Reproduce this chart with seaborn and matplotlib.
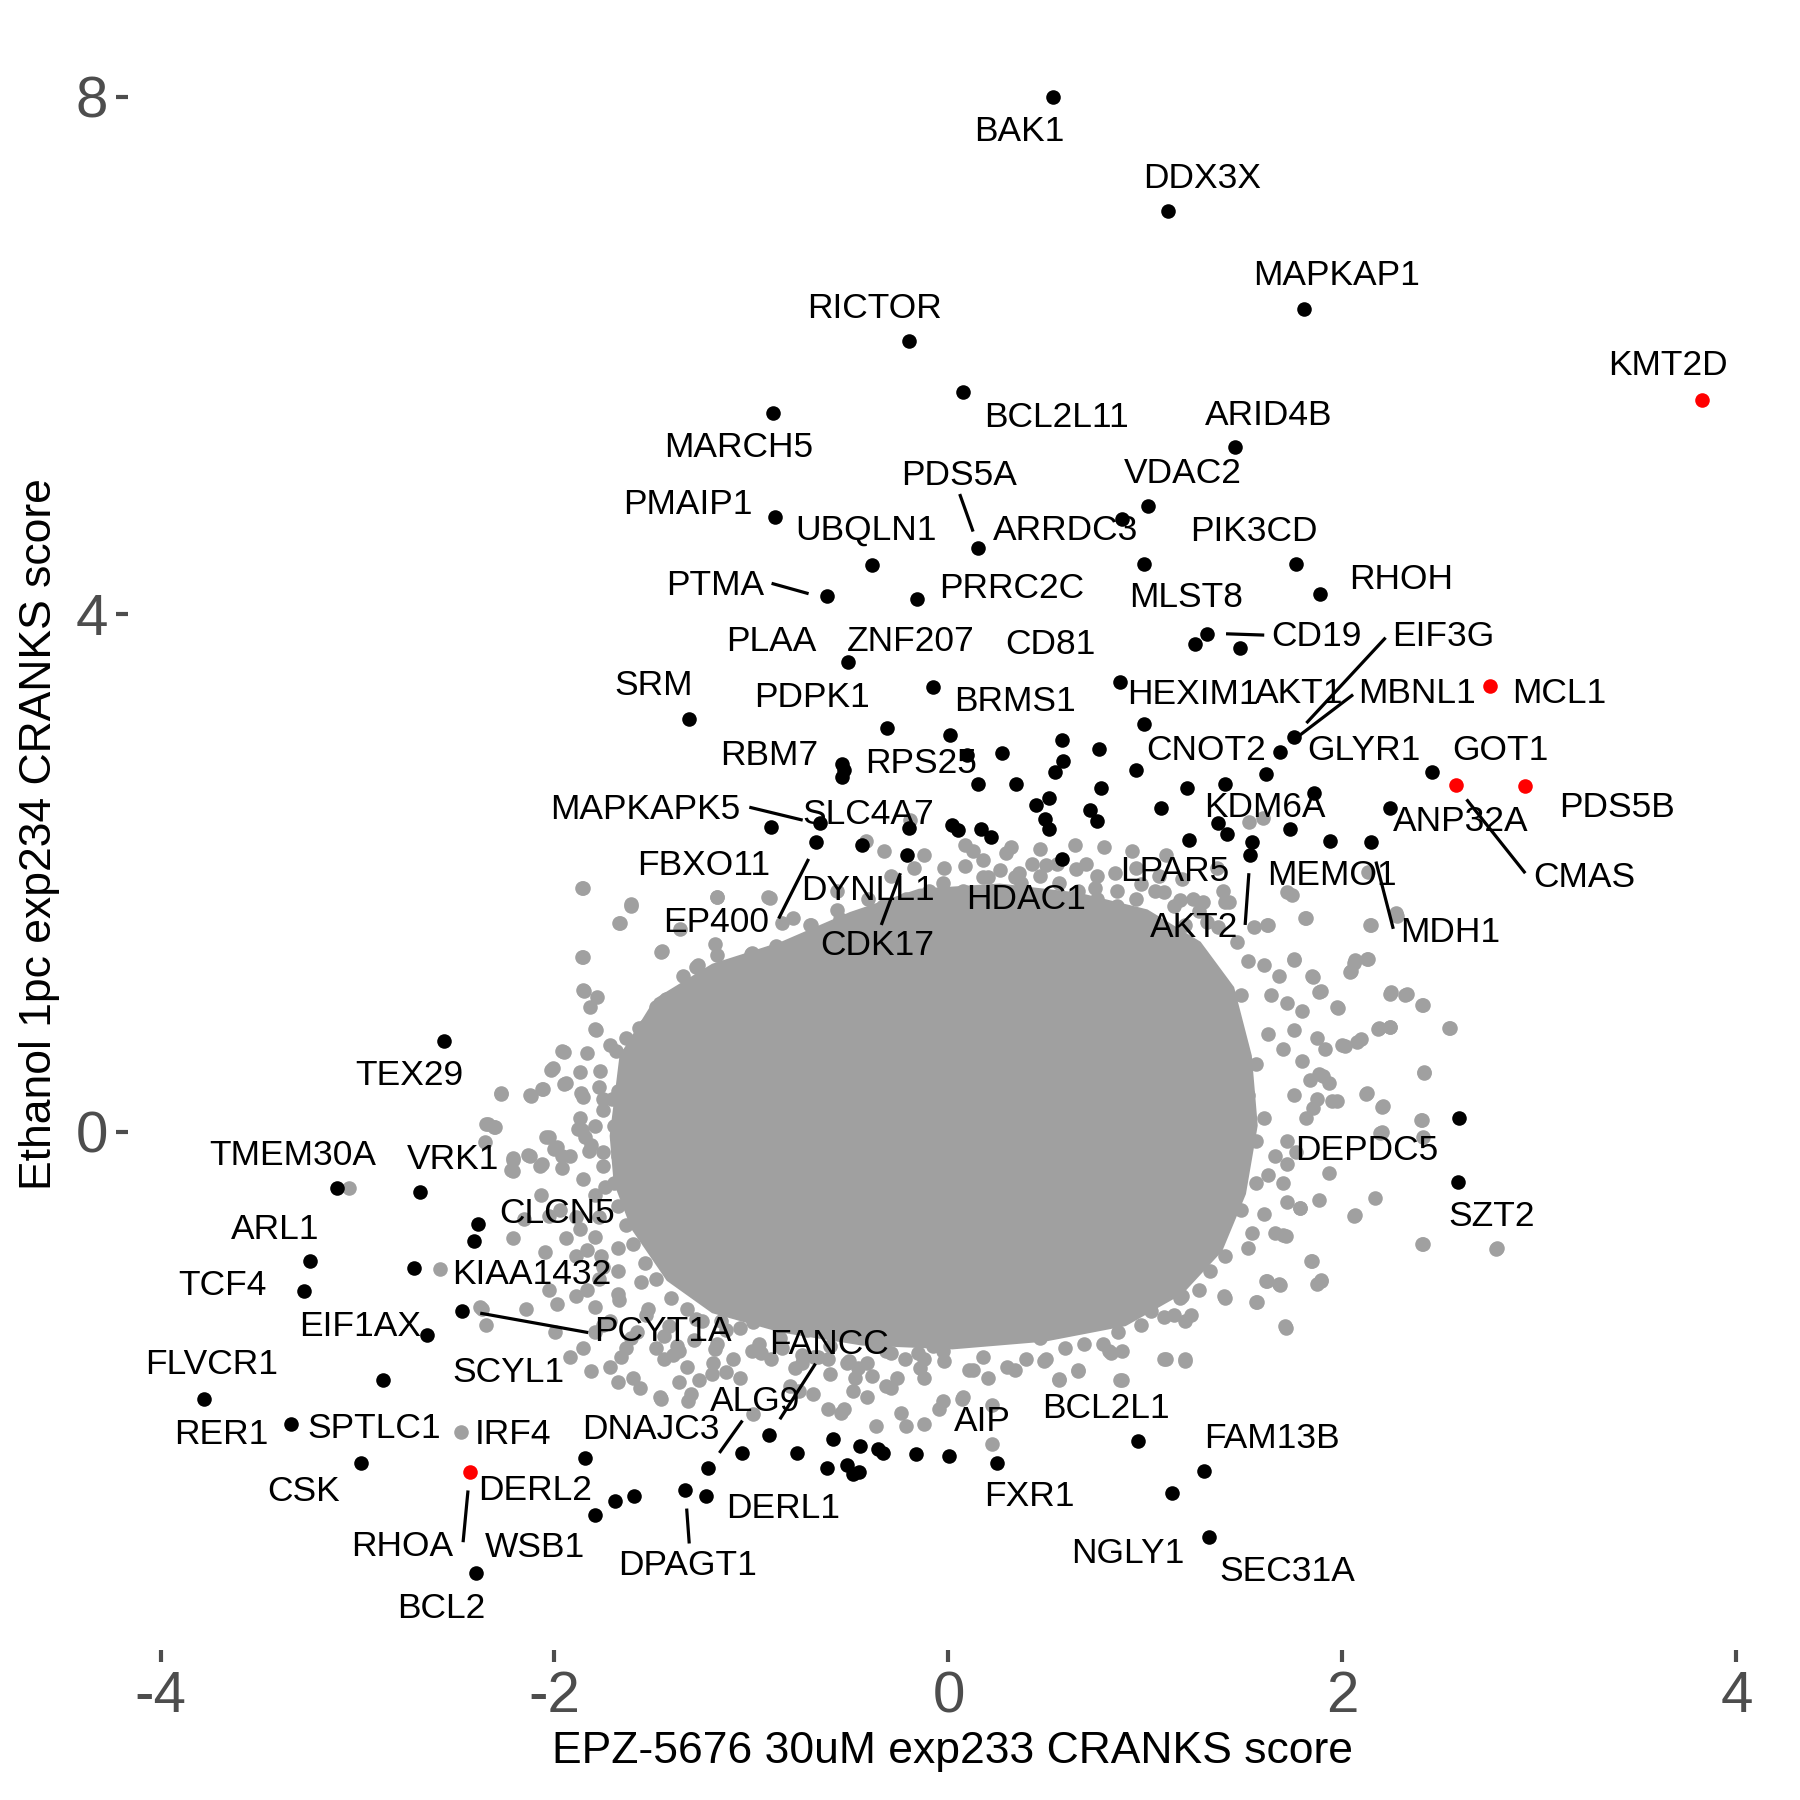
import matplotlib
matplotlib.use("Agg")
import matplotlib.pyplot as plt
import seaborn as sns
import pandas as pd

# ---------------- data ----------------
# outline of the dense, fully overlapped core of the grey cloud
core_x = [-1.72, -1.67, -1.49, -1.20, -0.85, -0.50, -0.15, 0.26, 0.66, 1.01, 1.28, 1.45, 1.54,
          1.57, 1.51, 1.39, 1.19, 0.90, 0.49, 0.02, -0.44, -0.85, -1.20, -1.43, -1.61, -1.70]
core_y = [-0.03, 0.59, 1.03, 1.30, 1.47, 1.70, 1.88, 1.92, 1.85, 1.72, 1.47, 1.12, 0.59,
          0.05, -0.48, -0.92, -1.25, -1.50, -1.62, -1.68, -1.65, -1.55, -1.40, -1.15, -0.75, -0.39]

# individual grey (non-significant) genes: outer scatter
grey_x = [-1.857, -1.610, -1.669, -1.857, -1.177, -0.905, -0.843, -0.697, -0.552, -1.455,
          -1.173, -0.998, -1.270, -1.212, -1.096, -1.857, -1.785, -1.818, -1.791, -1.435,
          -1.484, -1.348, -1.571, -1.523, -1.960, -1.688, -1.562, -2.018, -1.770, -1.940,
          -1.863, -2.271, -2.125, -2.061, -1.756, -1.707, -1.639, -2.348, -2.300, -2.028,
          -1.989, -2.125, -2.063, -2.212, -2.212, -1.960, -1.921, -1.882, -1.843, -1.756,
          -1.853, -1.746, -1.698, -2.067, -2.154, -2.028, -1.973, -1.892, -1.795, -2.212,
          -2.047, -1.940, -1.834, -1.766, -1.678, -2.028, -1.892, -1.989, -2.145, -2.368,
          -2.348, -1.795, -1.756, -1.999, -1.921, -1.814, -1.717, -1.639, -1.601, -1.484,
          -1.445, -1.368, -1.309, -1.465, -1.678, -1.202, -1.096, -0.998, -0.901, -0.688,
          -0.532, -0.416, -0.319, -0.241, -0.124, -0.047, -0.600, -0.746, -0.124, -2.475,
          -2.581, -2.378, -3.045, -2.222,
          1.814, 2.144, 1.616, 1.290, 1.406, 1.717, 2.271, 1.756, 2.125, 2.057,
          2.038, 1.843, 1.882, 2.241, 2.319, 2.407, 1.970, 2.543, 2.183, 2.241,
          1.999, 2.096, 1.911, 2.416, 1.882, 1.931, 1.970, 2.125, 2.203, 2.397,
          2.193, 2.407, 1.853, 1.931, 2.164, 1.882, 1.785, 2.057, 2.407, 2.785,
          1.843, 1.892, 1.872, 1.610, 1.678, 1.707, 1.562, 1.397, 1.231, 1.202,
          1.105, 1.202, 0.882, 0.823, 0.882, 0.658, 0.561, 0.221, 0.076, 1.698,
          1.717, 1.766,
          1.526, 1.598, 1.743, 1.811, 1.623, 1.549, 2.141, 2.277, 2.132, 1.753,
          1.850, 1.889, 2.064, 2.132, 2.044, 2.248, 2.326, 2.404, 2.544, 2.180,
          2.239, 1.976, 2.015, 2.073, 2.413, 2.122, 2.206, 2.404, 2.200, 1.899,
          1.947, 1.423, 1.394, 1.312, 1.364,
          2.064, 2.404, 2.782, 1.840, 1.714, 1.889, 1.685, 1.617, 1.564, 1.403,
          1.714, 1.786,
          -1.614, -1.672, -1.458, -1.177, -0.914, -0.788, -0.701, -0.565, -0.419, -0.328,
          -0.196, -0.122, 0.086, 0.125, 0.319, 0.640, 0.791, 0.931, 0.552, 0.086,
          0.698, 0.756, 0.854, 1.106, 1.184, 0.261, 0.339, -0.030, 0.174, -1.186,
          -1.361, -1.283, -1.002, -0.875, -0.817,
          -1.662, -1.565, -1.400, -1.458, -1.322, -1.264, -1.128, -0.992, -0.778, -0.759,
          -0.613, -0.545, -0.487, -0.390, -0.370, -0.293, -0.157, -0.147, -0.215, -0.030,
          0.067, 0.125, 0.222, 0.339, 0.484, 0.562, 0.659, 0.873, 1.096, 1.203,
          1.028, 1.184, 0.815, -0.458, -0.662,
          -1.858, -1.862, -1.849, -1.950, -2.010, -2.270, -2.121, -2.060, -1.950, -2.338,
          -2.309, -2.352, -2.041, -2.002, -2.134, -2.212, -2.076, -1.858, -1.824, -1.794,
          -1.853, -1.960]
grey_y = [1.883, 1.759, 1.617, 1.351, 1.818, 1.809, 1.617, 1.602, 1.647, 1.395,
          1.366, 1.380, 1.292, 1.158, 1.262, 1.099, 1.040, 0.966, 0.789, 1.026,
          0.966, 0.981, 0.804, 0.833, 0.626, 0.626, 0.582, 0.478, 0.469, 0.375,
          0.301, 0.301, 0.286, 0.330, 0.257, 0.257, 0.404, 0.064, 0.035, -0.039,
          -0.113, -0.187, -0.246, -0.202, -0.305, -0.187, -0.187, 0.020, -0.039, -0.261,
          -0.365, -0.424, 0.050, -0.483, -0.675, -0.646, -0.601, -0.660, -0.483, -0.823,
          -0.927, -0.823, -0.912, -0.956, -0.897, -1.222, -1.267, -1.326, -1.370, -1.370,
          -1.489, -1.355, -1.489, -1.548, -1.740, -1.844, -1.814, -1.666, -1.903, -1.666,
          -1.755, -1.932, -2.021, -2.051, -1.932, -1.873, -1.755, -1.696, -1.755, -2.021,
          -2.139, -2.051, -1.962, -2.169, -2.258, -2.139, -1.873, -1.784, -1.903, -2.317,
          -1.060, -1.355, -0.430, -0.290,
          1.653, 1.602, 1.602, 1.780, 1.780, 1.854, 1.691, 1.336, 1.336, 1.307,
          1.238, 1.203, 1.085, 1.070, 1.055, 0.981, 0.966, 0.804, 0.804, 0.813,
          0.671, 0.715, 0.641, 0.464, 0.449, 0.375, 0.242, 0.301, 0.197, 0.094,
          -0.010, -0.039, 0.183, -0.320, -0.512, -0.527, -0.586, -0.646, -0.868, -0.897,
          -1.000, -1.148, -1.178, -1.148, -1.178, -1.503, -1.311, -1.267, -1.415, -1.459,
          -1.755, -1.755, -1.917, -1.710, -1.696, -1.844, -1.917, -2.110, -2.051, -0.794,
          -0.246, -0.157,
          2.396, 2.425, 1.834, 1.656, 1.597, 1.582, 1.597, 1.671, 2.011, 1.331,
          1.198, 1.088, 1.331, 1.337, 1.242, 1.079, 1.065, 0.982, 0.804, 0.798,
          0.813, 0.961, 0.665, 0.695, 0.458, 0.296, 0.201, 0.089, 0.000, 0.429,
          0.237, 1.774, 1.863, 1.626, 2.041,
          -0.644, -0.866, -0.905, -1.000, -0.807, -1.147, -1.183, -1.153, -1.310, -1.280,
          -1.517, -0.585,
          1.745, 1.612, 1.390, 1.819, 1.819, 1.656, 1.597, 1.715, 2.248, 2.174,
          2.410, 2.144, 2.218, 2.174, 2.203, 2.218, 2.203, 2.174, 2.070, 2.055,
          2.070, 1.981, 1.863, 2.144, 1.952, 2.026, 1.967, 1.922, 1.967, 1.449,
          1.567, 1.272, 1.375, 1.434, 1.331,
          -1.739, -1.975, -1.724, -2.064, -2.079, -1.916, -1.857, -2.182, -1.827, -2.005,
          -2.138, -2.168, -2.005, -1.887, -2.271, -1.975, -1.709, -1.827, -2.271, -2.079,
          -2.064, -1.842, -2.413, -1.842, -1.768, -1.910, -1.842, -1.916, -1.753, -1.768,
          -1.384, -1.266, -1.694, -1.827, -1.739,
          1.884, 1.352, 1.088, 0.621, 0.494, 0.296, 0.281, 0.331, 0.370, 0.059,
          0.035, -0.074, -0.036, -0.133, -0.178, -0.213, -0.261, 0.015, -0.148, 0.798,
          0.272, -0.281]

# grey genes in the crowded ring around the core
ring_x = [-1.348, -1.280, -1.212, -1.134, -1.057, -0.979, -0.901, -0.804, -1.037, -0.960,
          -0.853, -0.746, -1.367, -1.329, -1.290, -1.193, -1.115, -1.445, -1.542, -1.484,
          -1.397, -1.367, -1.503, -1.639, -1.678, -1.581, -1.659, -1.610, -1.678, -1.639,
          -1.698, -1.678, -1.639, -1.600, -1.542, -1.484, -1.562, -1.678, -1.775, -1.834,
          -1.406, -1.329, -1.251, -1.154, -1.057, -0.960, -0.843, -0.746, -0.610, -0.513,
          -0.416, -0.319, -0.221, -0.124, -0.027, -1.173, -1.290, -1.523, -1.678, -1.717,
          -1.795, -1.853, -1.581, -1.445, -1.367, -1.329, -1.193, -1.057, -0.804, -0.474,
          -0.260, -1.756, -1.892, -1.872, -1.775, -1.795, -1.756, -1.814, -1.795, -1.872,
          -1.756, -1.872, -1.834, -1.717, -1.639, -1.620, -1.775,
          1.367, 1.270, 1.173, 1.095, 0.979, 0.843, 0.746, 0.649, 0.493, 0.357,
          0.202, 1.464, 1.523, 1.601, 1.678, 1.639, 1.717, 1.795, 1.756, 1.698,
          1.795, 1.872, 1.834, 1.756, 1.872, 1.814, 1.717, 1.659, 1.620, 1.698,
          1.717, 1.601, 1.659, 1.542, 1.523, 1.406, 1.329, 1.270, 1.173, 1.095,
          0.979, 0.862, 0.785, 0.688, 0.590, 0.493, 0.396, 0.299, 0.202, 0.105,
          1.367, 1.484, 1.562, 1.601, 1.562, 1.523, 1.562, 1.620, 1.484, 1.367,
          -0.681, -0.565, -0.448, -0.332, -0.215, -0.098, -0.021, 0.076, 0.174, 0.271,
          0.368, 0.465, 0.562, 0.659, 0.756, 0.853, 0.950, 1.048, 1.145, 1.242,
          0.076, 0.271, 0.465, 0.659, 0.853, 1.048, 1.203, -0.409, -0.215, -0.060,
          -0.565, -0.409, -0.293, -0.176, -0.021, 0.426, 0.950, 1.067, 0.174, 0.290,
          0.465,
          -1.672, -1.536, -1.419, -1.283, -1.128, -0.992, -0.856, -0.720, -0.603, -0.487,
          -0.370, -0.215, -0.079, 0.038, 0.174, 0.290, 0.407, 0.523, 0.659, 0.795,
          0.912, 1.048, 1.184, -1.614, -1.380, -1.186, -0.953, -0.681, -0.506, -0.293,
          -0.021, 0.174, 0.465, 0.717, 0.989, 1.145, 0.174, 0.562, 0.756, 0.950,
          1.222]
ring_y = [1.203, 1.114, 1.144, 1.011, 1.203, 1.233, 1.203, 1.262, 0.937, 1.055,
          1.114, 1.173, 0.848, 0.937, 0.759, 0.789, 0.878, 0.700, 0.818, 0.567,
          0.641, 0.523, 0.434, 0.523, 0.316, 0.286, 0.109, -0.039, -0.187, -0.335,
          -0.394, -0.572, -0.720, -0.867, -1.015, -1.134, -1.163, -1.074, -1.134, -1.222,
          -1.282, -1.370, -1.459, -1.459, -1.518, -1.636, -1.666, -1.725, -1.755, -1.784,
          -1.784, -1.696, -1.755, -1.755, -1.696, -1.636, -1.607, -1.370, -1.252, -1.459,
          -1.548, -1.666, -1.548, -1.577, -1.696, -1.814, -1.784, -1.903, -1.962, -1.903,
          -1.903, -1.045, -0.956, -0.749, -0.660, -0.808, -0.158, -0.098, 0.049, 0.109,
          0.168, 0.464, 0.611, 0.671, 0.730, 0.611, 0.345,
          1.587, 1.706, 1.794, 1.854, 1.913, 2.002, 1.883, 2.031, 2.061, 2.002,
          1.972, 1.469, 1.321, 1.292, 1.203, 1.055, 0.996, 0.937, 0.789, 0.641,
          0.552, 0.730, 0.404, 0.286, 0.257, 0.109, -0.069, -0.187, -0.335, -0.394,
          -0.542, -0.631, -0.779, -0.779, -0.897, -0.956, -1.074, -1.222, -1.282, -1.429,
          -1.489, -1.548, -1.636, -1.636, -1.666, -1.755, -1.755, -1.814, -1.903, -1.843,
          -0.779, -0.601, -0.394, 0.109, -0.069, 0.286, 0.523, 0.759, 1.055, 1.144,
          1.449, 1.538, 1.597, 1.745, 1.804, 1.863, 1.745, 1.863, 1.804, 1.863,
          1.922, 1.981, 1.922, 1.863, 1.804, 1.745, 1.804, 1.863, 1.745, 1.804,
          1.597, 1.656, 1.745, 1.686, 1.597, 1.597, 1.597, 1.390, 1.508, 1.597,
          1.863, 1.804, 1.981, 2.041, 2.041, 2.070, 2.041, 1.981, 2.100, 2.159,
          2.189,
          -1.295, -1.413, -1.502, -1.443, -1.532, -1.472, -1.591, -1.532, -1.650, -1.561,
          -1.650, -1.591, -1.650, -1.532, -1.591, -1.472, -1.413, -1.354, -1.295, -1.236,
          -1.118, -1.058, -0.999, -1.591, -1.650, -1.680, -1.709, -1.739, -1.768, -1.709,
          -1.768, -1.739, -1.591, -1.472, -1.295, -1.413, -1.295, -1.177, -1.058, -0.881,
          -0.822]

# significant genes (black)
black_x = [0.533, 1.114, 1.803, -0.200, 0.073, -0.889, 1.453, 1.013, 0.879, -0.879,
           0.150, -0.390, 0.993, 1.764, 1.885, -0.619, -0.160, 1.252, 1.312, 1.481,
           -0.508, -0.079, 0.869, -1.318, -0.310, 0.010, 0.991, 0.574, -0.539, -0.531,
           -0.539, 0.096, 0.271, 0.582, 0.543, 0.762, 0.953, 0.150, 0.343, 0.772,
           1.213, 0.510, 0.442, 1.079, 0.718, 0.756, 0.488, 0.510, -0.650, -0.900,
           -0.200, 0.018, 0.047, 0.164, 0.216, 1.219, -0.670, -0.438, -0.209, 0.574,
           1.753, 1.685, 1.613, 2.454, 1.403, 1.855, 2.242, 1.370, 1.413, 1.733,
           1.937, 2.145, 1.543, 1.533, 2.594, 2.586, -2.561, -3.103, -2.682, -3.241,
           -3.271, -2.390, -2.410, -2.711, -2.470, -2.649, -3.781, -2.868, -3.338, -2.981,
           -2.400, -1.843, -1.794, -1.598, -1.695, -1.219, -1.048, -0.909, -0.769, -0.588,
           -0.617, -0.516, -0.487, -0.452, -0.448, -0.360, -0.331, -0.167, 0.003, 0.246,
           -1.338, -1.229, 0.963, 1.135, 1.298, 1.325]
black_y = [8.00, 7.12, 6.36, 6.11, 5.72, 5.56, 5.29, 4.84, 4.74, 4.75,
           4.51, 4.38, 4.39, 4.39, 4.16, 4.14, 4.12, 3.77, 3.85, 3.74,
           3.63, 3.44, 3.48, 3.19, 3.12, 3.07, 3.15, 3.03, 2.84, 2.80,
           2.74, 2.91, 2.93, 2.87, 2.78, 2.96, 2.80, 2.69, 2.69, 2.66,
           2.66, 2.58, 2.53, 2.50, 2.49, 2.40, 2.42, 2.34, 2.39, 2.36,
           2.35, 2.37, 2.33, 2.34, 2.28, 2.26, 2.24, 2.22, 2.14, 2.11,
           3.05, 2.94, 2.77, 2.78, 2.69, 2.62, 2.50, 2.39, 2.30, 2.34,
           2.25, 2.24, 2.24, 2.14, 0.11, -0.39, 0.70, -0.43, -0.46, -1.00,
           -1.23, -0.71, -0.84, -1.05, -1.38, -1.57, -2.06, -1.92, -2.26, -2.56,
           -3.41, -2.52, -2.96, -2.81, -2.85, -2.60, -2.48, -2.34, -2.48, -2.37,
           -2.60, -2.57, -2.64, -2.63, -2.43, -2.45, -2.48, -2.49, -2.50, -2.56,
           -2.77, -2.81, -2.39, -2.79, -2.62, -3.13]

# highlighted genes (red)
red_x = [3.825, 2.747, 2.574, 2.926, -2.429]
red_y = [5.66, 3.45, 2.68, 2.67, -2.63]

# gene labels
label_text = ["BAK1", "DDX3X", "MAPKAP1", "RICTOR", "KMT2D", "BCL2L11", "ARID4B", "MARCH5",
              "PDS5A", "VDAC2", "PMAIP1", "UBQLN1", "ARRDC3", "PIK3CD", "PTMA", "PRRC2C",
              "RHOH", "MLST8", "PLAA", "ZNF207", "CD81", "CD19", "EIF3G", "SRM", "PDPK1",
              "BRMS1", "HEXIM1", "AKT1", "MBNL1", "MCL1", "RBM7", "RPS25", "CNOT2", "GLYR1",
              "GOT1", "MAPKAPK5", "SLC4A7", "KDM6A", "ANP32A", "PDS5B", "FBXO11", "DYNLL1",
              "HDAC1", "LPAR5", "MEMO1", "CMAS", "EP400", "CDK17", "AKT2", "MDH1", "TEX29",
              "DEPDC5", "TMEM30A", "VRK1", "CLCN5", "SZT2", "ARL1", "KIAA1432", "TCF4",
              "EIF1AX", "PCYT1A", "FANCC", "FLVCR1", "SCYL1", "ALG9", "BCL2L1", "AIP",
              "DNAJC3", "RER1", "SPTLC1", "IRF4", "FAM13B", "DERL2", "CSK", "FXR1", "DERL1",
              "RHOA", "WSB1", "NGLY1", "DPAGT1", "SEC31A", "BCL2"]
label_x = [0.358, 1.286, 1.970, -0.374, 3.651, 0.547, 1.624, -1.066,
           0.053, 1.187, -1.322, -0.419, 0.597, 1.549, -1.184, 0.319,
           2.300, 1.205, -0.900, -0.191, 0.519, 1.869, 2.514, -1.497, -0.695,
           0.339, 1.240, 1.782, 2.380, 3.099, -0.909, -0.137, 1.310, 2.108,
           2.802, -1.540, -0.409, 1.607, 2.601, 3.394, -1.245, -0.409,
           0.393, 1.147, 1.947, 3.229, -1.177, -0.360, 1.246, 2.549, -2.736,
           2.122, -3.329, -2.513, -1.988, 2.757, -3.419, -2.117, -3.688,
           -2.989, -1.447, -0.607, -3.741, -2.235, -0.982, 0.801, 0.170,
           -1.511, -3.692, -2.915, -2.212, 1.642, -2.099, -3.276, 0.413, -0.837,
           -2.771, -2.099, 0.912, -1.322, 1.720, -2.577]
label_y = [7.73, 7.37, 6.62, 6.36, 5.92, 5.52, 5.54, 5.29,
           5.07, 5.09, 4.85, 4.65, 4.65, 4.64, 4.22, 4.20,
           4.27, 4.13, 3.79, 3.79, 3.77, 3.83, 3.83, 3.45, 3.36,
           3.33, 3.38, 3.39, 3.39, 3.39, 2.91, 2.85, 2.95, 2.95,
           2.95, 2.49, 2.45, 2.51, 2.40, 2.51, 2.06, 1.87,
           1.80, 2.01, 1.98, 1.97, 1.62, 1.44, 1.58, 1.54, 0.44,
           -0.14, -0.18, -0.21, -0.63, -0.65, -0.75, -1.10, -1.19,
           -1.50, -1.54, -1.64, -1.80, -1.86, -2.08, -2.14, -2.24,
           -2.30, -2.34, -2.29, -2.34, -2.37, -2.77, -2.78, -2.82, -2.91,
           -3.20, -3.21, -3.26, -3.35, -3.40, -3.68]

# label leader segments (label end -> point end)
seg_x0 = [0.057, -0.898, 1.409, 2.219, 2.054, -1.011, -0.710, -0.244, 2.630, 2.170,
          1.525, -2.377, -0.675, -1.046, -2.439, -1.329]
seg_y0 = [4.93, 4.24, 3.85, 3.82, 3.38, 2.51, 2.11, 2.00, 2.57, 2.09,
          2.00, -1.40, -1.79, -2.23, -2.77, -2.91]
seg_x1 = [0.125, -0.710, 1.603, 1.817, 1.778, -0.740, -0.862, -0.341, 2.928, 2.258,
          1.506, -1.829, -0.856, -1.163, -2.464, -1.316]
seg_y1 = [4.64, 4.16, 3.84, 3.16, 3.06, 2.41, 1.65, 1.60, 2.00, 1.57,
          1.60, -1.55, -2.22, -2.48, -3.17, -3.18]

x_title = "EPZ-5676 30uM exp233 CRANKS score"
y_title = "Ethanol 1pc exp234 CRANKS score"
x_ticks = [-4, -2, 0, 2, 4]
y_ticks = [0, 4, 8]

# ---------------- styling ----------------
GREY = "#A0A0A0"
TICK_GREY = "#4D4D4D"

sns.set_theme(style="white")
plt.rcParams["font.family"] = ["Liberation Sans", "DejaVu Sans"]
plt.rcParams["axes.unicode_minus"] = False

fig = plt.figure(figsize=(18, 18), dpi=100)
ax = fig.add_axes([128 / 1800, 150 / 1800, 1650 / 1800, 1631 / 1800])

grey_df = pd.DataFrame({"x": grey_x + ring_x, "y": grey_y + ring_y})
black_df = pd.DataFrame({"x": black_x, "y": black_y})
red_df = pd.DataFrame({"x": red_x, "y": red_y})

PT = 110
ax.fill(core_x, core_y, color=GREY, lw=0, zorder=1)
sns.scatterplot(data=grey_df, x="x", y="y", color=GREY, s=PT, linewidth=0, ax=ax, zorder=2)
sns.scatterplot(data=black_df, x="x", y="y", color="black", s=PT, linewidth=0, ax=ax, zorder=3)
sns.scatterplot(data=red_df, x="x", y="y", color="#FF0000", s=PT, linewidth=0, ax=ax, zorder=4)

for x0, y0, x1, y1 in zip(seg_x0, seg_y0, seg_x1, seg_y1):
    ax.plot([x0, x1], [y0, y1], color="black", lw=2.3, solid_capstyle="butt", zorder=5)

for t, x, y in zip(label_text, label_x, label_y):
    ax.text(x, y, t, ha="center", va="center", fontsize=25.5, color="black", zorder=6)

ax.set_xlim(-4.165, 4.211)
ax.set_ylim(-4.003, 8.601)
ax.set_xticks(x_ticks)
ax.set_yticks(y_ticks)
ax.set_xticklabels([str(v) for v in x_ticks])
ax.set_yticklabels([str(v) for v in y_ticks])
for s in ax.spines.values():
    s.set_visible(False)
ax.grid(False)
ax.set_facecolor("white")
ax.tick_params(axis="both", which="both", bottom=True, left=True, length=8.5, width=3,
               color=TICK_GREY, labelcolor=TICK_GREY, labelsize=42, pad=6)

ax.set_xlabel(x_title, fontsize=32, color="black")
ax.set_ylabel(y_title, fontsize=32, color="black")
ax.xaxis.label.set_va("center")
ax.yaxis.label.set_va("center")
ax.xaxis.set_label_coords(0.5, (49 - 150) / 1631)
ax.yaxis.set_label_coords((40 - 128) / 1650, 0.5)

fig.savefig("out.png", dpi=100, facecolor="white")
